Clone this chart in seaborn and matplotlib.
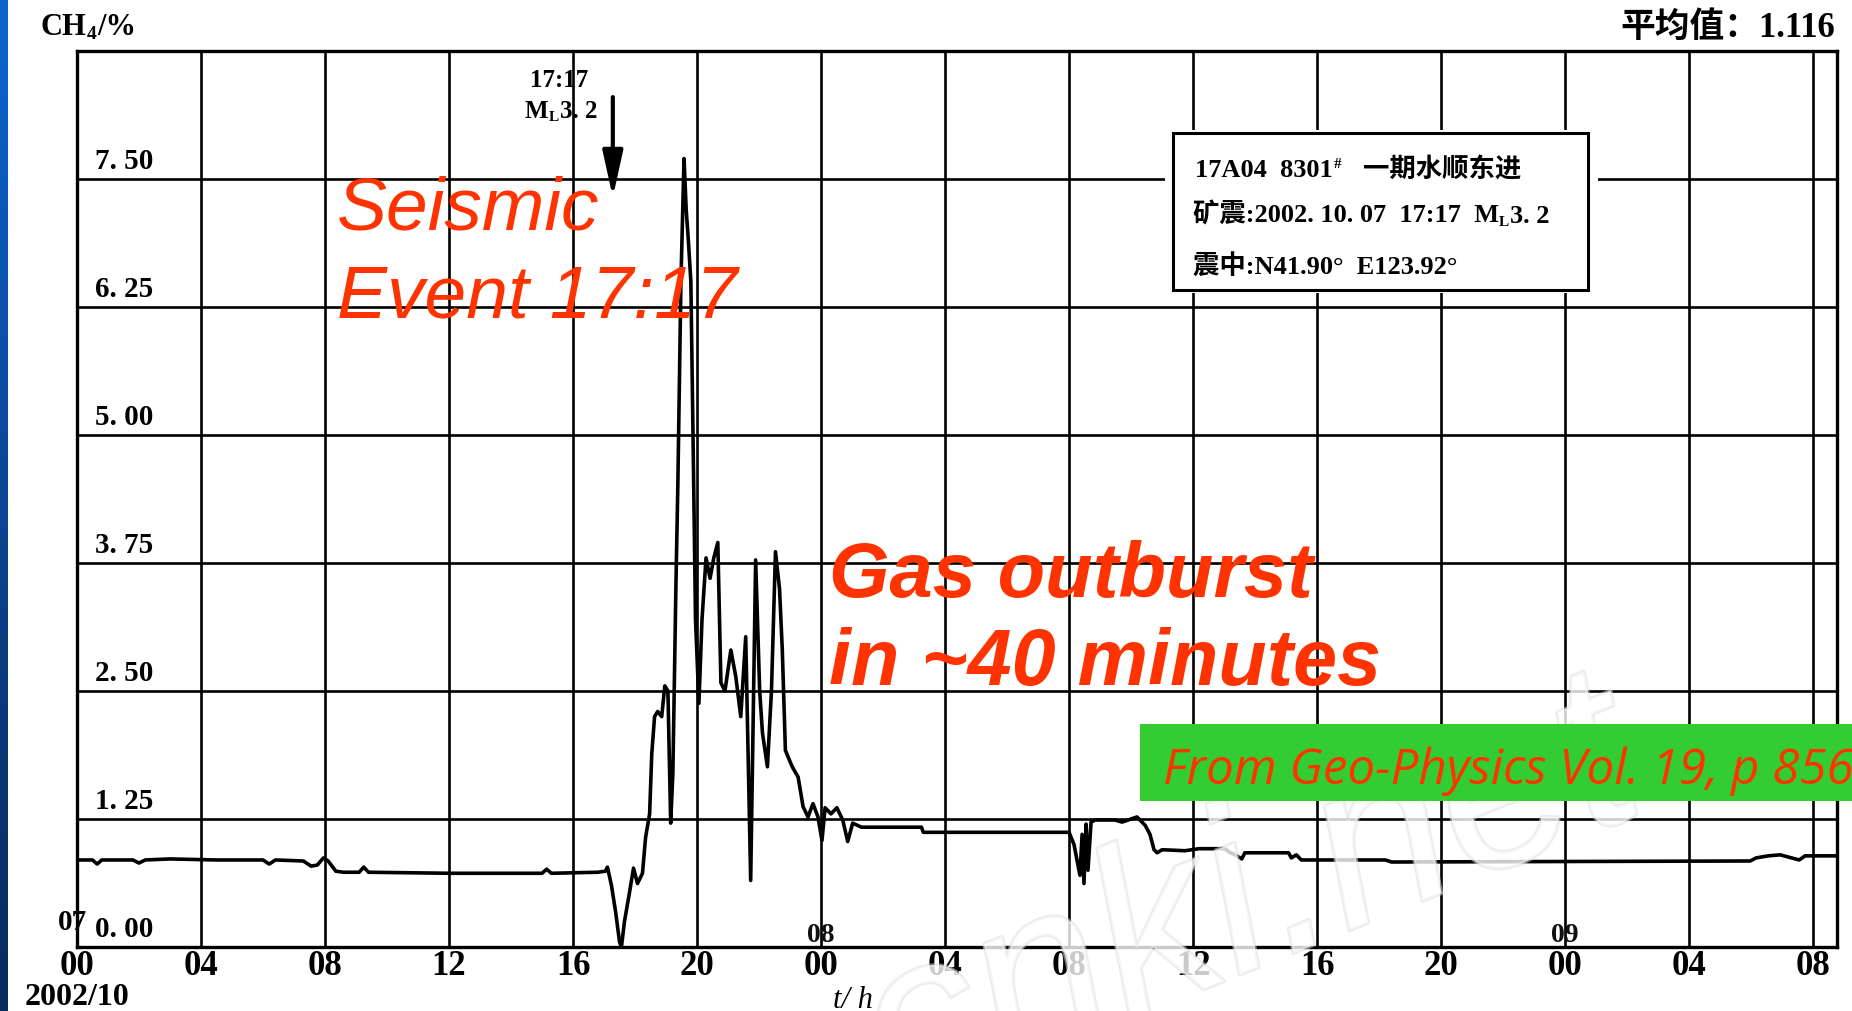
import numpy as np
import pandas as pd
import matplotlib
matplotlib.use("Agg")
import matplotlib.pyplot as plt
import matplotlib.patheffects as pe
from matplotlib.patches import Rectangle
from matplotlib.colors import LinearSegmentedColormap
import seaborn as sns

# ---------------- data ----------------
hours = [0.0, 0.5, 0.65, 0.8, 1.8, 2.0, 2.2, 3.0, 4.5, 6.0, 6.2, 6.4, 7.3, 7.55, 7.75,
         7.95, 8.1, 8.35, 8.6, 9.1, 9.25, 9.4, 12.0, 15.0, 15.15, 15.3, 16.8, 17.04,
         17.11, 17.24, 17.37, 17.50, 17.56, 17.66, 17.82, 17.95, 18.08, 18.24, 18.34,
         18.47, 18.54, 18.63, 18.73, 18.86, 18.96, 19.06, 19.15, 19.22, 19.32, 19.38,
         19.48, 19.58, 19.65, 19.72, 19.80, 19.87, 19.95, 20.06, 20.16, 20.29, 20.42,
         20.54, 20.67, 20.77, 20.90, 21.09, 21.25, 21.41, 21.57, 21.73, 21.89, 22.02,
         22.11, 22.27, 22.40, 22.53, 22.66, 22.75, 22.85, 23.07, 23.26, 23.42, 23.58,
         23.74, 23.90, 24.03, 24.13, 24.32, 24.51, 24.70, 24.86, 25.02, 25.30, 27.24,
         27.30, 32.0, 32.16, 32.35, 32.42, 32.48, 32.55, 32.61, 32.71, 32.84, 33.48,
         33.71, 34.19, 34.45, 34.61, 34.74, 34.84, 35.0, 35.74, 36.19, 37.03, 37.15,
         37.35, 37.57, 37.67, 37.99, 39.08, 39.17, 39.33, 39.49, 42.2, 42.4, 53.97,
         54.16, 54.55, 54.94, 55.55, 55.74, 56.77]
ch4 = [0.85, 0.85, 0.81, 0.85, 0.85, 0.82, 0.85, 0.86, 0.85, 0.85, 0.81, 0.85, 0.84, 0.79, 0.80,
       0.87, 0.84, 0.74, 0.73, 0.73, 0.78, 0.73, 0.72, 0.72, 0.76, 0.72, 0.73, 0.74,
       0.78, 0.60, 0.35, 0.05, 0.0, 0.25, 0.53, 0.77, 0.62, 0.72, 1.07,
       1.30, 1.89, 2.25, 2.30, 2.25, 2.55, 2.50, 1.21, 1.70, 3.55, 4.50,
       6.50, 7.70, 7.20, 6.90, 6.50, 5.00, 3.20, 2.38, 3.20, 3.80, 3.60,
       3.80, 3.95, 2.58, 2.50, 2.90, 2.64, 2.25, 3.03, 0.65, 3.78, 2.50,
       2.09, 1.76, 2.50, 3.86, 3.50, 2.90, 1.92, 1.76, 1.66, 1.37, 1.27,
       1.40, 1.27, 1.04, 1.36, 1.30, 1.36, 1.24, 1.03, 1.21, 1.17, 1.17,
       1.12, 1.12, 1.00, 0.70, 1.10, 0.62, 1.20, 0.75, 1.22, 1.24, 1.24,
       1.22, 1.27, 1.19, 1.10, 0.95, 0.92, 0.95, 0.94, 0.96, 0.96, 0.93,
       0.90, 0.86, 0.92, 0.92, 0.92, 0.87, 0.90, 0.85, 0.85, 0.83, 0.84,
       0.87, 0.89, 0.90, 0.85, 0.89, 0.89]
x_ticks = list(range(0, 57, 4))
x_tick_labels = ["00", "04", "08", "12", "16", "20", "00", "04", "08",
                 "12", "16", "20", "00", "04", "08"]
y_ticks = [0.0, 1.25, 2.5, 3.75, 5.0, 6.25, 7.5]
y_tick_labels = ["0. 00", "1. 25", "2. 50", "3. 75", "5. 00", "6. 25", "7. 50"]
day_labels = ["08", "09"]
day_hours = [24, 48]
event_hour = 17 + 17 / 60.0
x_max = 56.77
y_max = 8.75

# ---------------- style ----------------
sns.set_theme(style="white")
SERIF = ["Liberation Serif", "Noto Sans CJK SC", "DejaVu Serif"]
plt.rcParams["font.family"] = SERIF
plt.rcParams["text.color"] = "black"

W, H = 1852, 1011
fig = plt.figure(figsize=(W / 100, H / 100), dpi=100, facecolor="white")


def fx(px):
    return px / W


def fy(py):
    return 1 - py / H


renderer = fig.canvas.get_renderer()


def seq(x, y, parts, **kw):
    """place text pieces one after another; y is the baseline in pixels from top"""
    for s, fs, dy, gap in parts:
        x += gap
        t = fig.text(fx(x), fy(y + dy), s, fontsize=fs, va="baseline", ha="left", **kw)
        bb = t.get_window_extent(renderer)
        x += bb.width
    return x


# left blue slide stripe
sax = fig.add_axes([0, 0, 8 / W, 1])
cmap = LinearSegmentedColormap.from_list("stripe", ["#0c66d0", "#0a4fa8", "#0a3a7e", "#082a5c"])
sax.imshow(np.linspace(0, 1, 256).reshape(-1, 1), aspect="auto", cmap=cmap)
sax.set_axis_off()

# main chart
ax = fig.add_axes([fx(77), fy(947), (1837 - 77) / W, (947 - 51) / H])
ax.set_facecolor("white")
df = pd.DataFrame({"t": hours, "ch4": ch4})
sns.lineplot(data=df, x="t", y="ch4", ax=ax, color="black", lw=2.6,
             estimator=None, sort=False, zorder=3)
ax.set_xlim(0, x_max)
ax.set_ylim(0, y_max)
ax.set_xticks(x_ticks)
ax.set_xticklabels(x_tick_labels, fontsize=25, fontweight="bold")
ax.set_yticks(y_ticks)
ax.set_yticklabels([])
ax.tick_params(length=0, pad=2, labelcolor="black")
ax.grid(True, color="black", lw=1.9)
ax.set_axisbelow(True)
ax.set_xlabel("")
ax.set_ylabel("")
for s in ax.spines.values():
    s.set_visible(True)
    s.set_color("black")
    s.set_linewidth(2.4)

# y labels written inside the grid
for v, lab in zip(y_ticks, y_tick_labels):
    ax.text(0.58, v + 0.10, lab, fontsize=21, fontweight="bold", va="baseline", ha="left")
ax.text(-0.62, 0.17, "07", fontsize=21, fontweight="bold", va="baseline", ha="left", clip_on=False)
for h, lab in zip(day_hours, day_labels):
    ax.text(h, 0.05, lab, fontsize=20, fontweight="bold", va="baseline", ha="center", color="#111111")

# event arrow
ax.annotate("", xy=(event_hour, 7.32), xytext=(event_hour, 8.30),
            arrowprops=dict(arrowstyle="-|>,head_length=1.0,head_width=0.22", color="black",
                            lw=3, mutation_scale=28, shrinkA=0, shrinkB=0), zorder=4)

# axis texts outside
fig.text(fx(25), fy(1005), "2002/10", fontsize=23, fontweight="bold", va="baseline")
fig.text(fx(833), fy(1008), "t/ h", fontsize=22, style="italic", va="baseline")
seq(40, 35, [("CH", 22, 0, 0), ("4", 14, 4, 1), ("/%", 22, 0, 1)], fontweight="bold")
fig.text(fx(1835), fy(37), "平均值：1.116", fontsize=25, fontweight="bold", ha="right", va="baseline")

# event label near arrow
fig.text(fx(559), fy(87), "17:17", fontsize=18, fontweight="bold", ha="center", va="baseline")
seq(525, 118, [("M", 18, 0, 0), ("L", 11, 3, 0), ("3. 2", 18, 0, 1)], fontweight="bold")

# inset info box
fig.add_artist(Rectangle((fx(1165), fy(293)), (1598 - 1165) / W, (293 - 130) / H,
                         transform=fig.transFigure, facecolor="white", edgecolor="none", zorder=5))
fig.add_artist(Rectangle((fx(1173), fy(290)), (1588 - 1173) / W, (290 - 133) / H,
                         transform=fig.transFigure, facecolor="white", edgecolor="black",
                         lw=2.2, zorder=6))
box_kw = dict(fontweight="bold", zorder=7)
seq(1195, 177, [("17A04  8301", 19, 0, 0), ("#", 11, -9, 1), ("一期水顺东进", 19, 0, 22)], **box_kw)
seq(1193, 223, [("矿震:2002. 10. 07  17:17  M", 19, 0, 0), ("L", 11, 3, 0), ("3. 2", 19, 0, 1)], **box_kw)
seq(1193, 274, [("震中:N41.90°  E123.92°", 19, 0, 0)], **box_kw)

# watermark (faint)
fig.text(fx(1250), fy(905), "cnki.net", fontsize=170, style="italic", rotation=22,
         ha="center", va="center", color="white", alpha=0.55, family="Liberation Sans",
         path_effects=[pe.withStroke(linewidth=2.5, foreground="#dedede")], zorder=8)

# slide overlays
RED = "#FF3300"
fig.text(fx(337), fy(230), "Seismic", fontsize=54, style="italic", color=RED,
         family="Liberation Sans", va="baseline", zorder=10)
fig.text(fx(337), fy(318), "Event 17:17", fontsize=54, style="italic", color=RED,
         family="Liberation Sans", va="baseline", zorder=10)
fig.text(fx(829), fy(597), "Gas outburst", fontsize=56, style="italic", fontweight="bold",
         color=RED, family="Liberation Sans", va="baseline", zorder=10)
fig.text(fx(829), fy(685), "in ~40 minutes", fontsize=57, style="italic", fontweight="bold",
         color=RED, family="Liberation Sans", va="baseline", zorder=10)
fig.add_artist(Rectangle((fx(1140), fy(801)), (W - 1140) / W, (801 - 724) / H,
                         transform=fig.transFigure, facecolor="#33CC33", edgecolor="none", zorder=9))
fig.text(fx(1163), fy(784), "From Geo-Physics Vol. 19, p 856", fontsize=35.5, style="italic",
         color=RED, family="Open Sans", va="baseline", zorder=10)

fig.savefig("out.png", dpi=100, facecolor="white")
